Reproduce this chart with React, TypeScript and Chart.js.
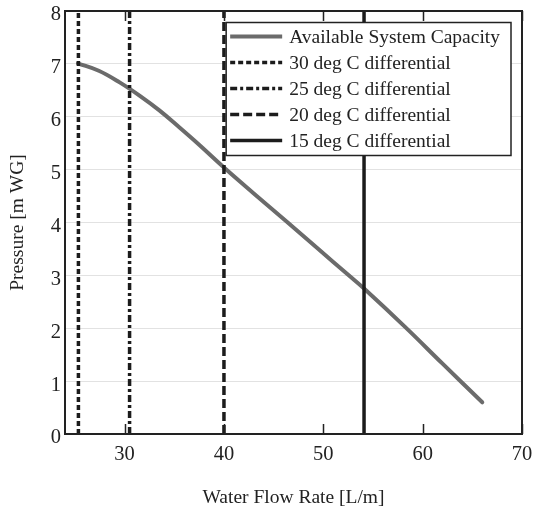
import React, { useEffect, useRef } from 'react';
import { Chart, registerables } from 'chart.js';

Chart.register(...registerables);

// ---- data ----
const flowRates = [25.3, 27.4, 29.5, 31.5, 33.5, 35.5, 37.5, 40.0, 43.0, 46.3, 49.5, 52.5, 54.1, 58.2, 62.0, 66.0];
const pressures = [7.01, 6.87, 6.65, 6.40, 6.12, 5.80, 5.47, 5.04, 4.55, 4.02, 3.50, 3.01, 2.75, 2.03, 1.33, 0.6];
const curveLabel = 'Available System Capacity';

const differentialLabels = [
  '30 deg C differential',
  '25 deg C differential',
  '20 deg C differential',
  '15 deg C differential',
];
const differentialFlows = [25.35, 30.5, 40.0, 54.1];
const pressureSpan = [0, 8];

const xTicks = [30, 40, 50, 60, 70];
const xMin = 24;
const xMax = 70;
const yMin = 0;
const yMax = 8;
const xTitle = 'Water Flow Rate [L/m]';
const yTitle = 'Pressure [m WG]';

// ---- styles ----
const FONT = "'Liberation Serif', 'Times New Roman', 'DejaVu Serif', serif";
const TICK_SIZE = 20.5;
const TEXT_SIZE = 19.5;
const INK = '#222222';
const CURVE_COLOR = '#6b6b6b';
const LINE_COLOR = '#1c1c1c';
const dashPatterns = [[5, 3], [7, 3, 3, 3], [9, 4], []];

const framePlugin = {
  id: 'frameAndLegend',
  afterDraw(chart: any) {
    const { ctx, chartArea: a } = chart;
    ctx.save();
    // frame
    ctx.strokeStyle = INK;
    ctx.lineWidth = 2;
    ctx.setLineDash([]);
    ctx.strokeRect(a.left, a.top, a.right - a.left, a.bottom - a.top);
    // inward x ticks (bottom and top)
    const xs = chart.scales.x;
    ctx.lineWidth = 1.5;
    xs.ticks.forEach((t: any) => {
      const px = Math.round(xs.getPixelForValue(t.value)) + 0.5;
      ctx.beginPath();
      ctx.moveTo(px, a.bottom);
      ctx.lineTo(px, a.bottom - 10);
      ctx.moveTo(px, a.top);
      ctx.lineTo(px, a.top + 10);
      ctx.stroke();
    });

    // legend
    const ds = chart.data.datasets;
    ctx.font = `${TEXT_SIZE}px ${FONT}`;
    const sampleLen = 52;
    const padL = 4;
    const gap = 7;
    const padR = 11;
    const rowH = 26;
    const padT = 14;
    const padB = 15;
    let textW = 0;
    ds.forEach((d: any) => {
      textW = Math.max(textW, ctx.measureText(d.label).width);
    });
    const boxW = padL + sampleLen + gap + textW + padR;
    const boxH = padT + rowH * (ds.length - 1) + padB;
    const right = a.right - 11;
    const left = right - boxW;
    const top = a.top + 11.5;
    ctx.fillStyle = '#ffffff';
    ctx.fillRect(left, top, boxW, boxH);
    ctx.strokeStyle = INK;
    ctx.lineWidth = 1.5;
    ctx.setLineDash([]);
    ctx.strokeRect(left, top, boxW, boxH);
    ds.forEach((d: any, i: number) => {
      const y = top + padT + i * rowH;
      ctx.save();
      ctx.strokeStyle = d.borderColor;
      ctx.lineWidth = d.borderWidth;
      ctx.setLineDash(d.borderDash || []);
      ctx.beginPath();
      ctx.moveTo(left + padL, y);
      ctx.lineTo(left + padL + sampleLen, y);
      ctx.stroke();
      ctx.restore();
      ctx.fillStyle = INK;
      ctx.textBaseline = 'middle';
      ctx.textAlign = 'left';
      ctx.fillText(d.label, left + padL + sampleLen + gap, y + 1);
    });
    ctx.restore();
  },
};

export default function App() {
  const ref = useRef<HTMLCanvasElement | null>(null);

  useEffect(() => {
    document.body.style.margin = '0';
    const canvas = ref.current;
    if (!canvas) return;

    const curve = {
      label: curveLabel,
      data: flowRates.map((x, i) => ({ x, y: pressures[i] })),
      borderColor: CURVE_COLOR,
      backgroundColor: CURVE_COLOR,
      borderWidth: 4,
      borderCapStyle: 'round',
      tension: 0.4,
      pointRadius: 0,
      order: 1,
    };
    const verticals = differentialLabels.map((label, i) => ({
      label,
      data: pressureSpan.map((y) => ({ x: differentialFlows[i], y })),
      borderColor: LINE_COLOR,
      backgroundColor: LINE_COLOR,
      borderWidth: 3.5,
      borderDash: dashPatterns[i],
      pointRadius: 0,
      order: 0,
    }));

    const chart = new Chart(canvas, {
      type: 'line',
      data: { datasets: [curve, ...verticals] as any },
      options: {
        animation: false,
        responsive: false,
        maintainAspectRatio: false,
        layout: { padding: { top: 11, right: 17, left: 0, bottom: 0 } },
        plugins: { legend: { display: false }, tooltip: { enabled: false } },
        elements: { point: { radius: 0 } },
        scales: {
          x: {
            type: 'linear',
            min: xMin,
            max: xMax,
            afterBuildTicks: (s: any) => {
              s.ticks = xTicks.map((v) => ({ value: v }));
            },
            afterFit: (s: any) => {
              s.height = 73;
              s.paddingLeft = 0;
              s.paddingRight = 0;
            },
            grid: { display: false, drawTicks: false },
            border: { display: false },
            ticks: {
              padding: 8,
              color: INK,
              font: { family: FONT, size: TICK_SIZE },
              maxRotation: 0,
            },
            title: {
              display: true,
              text: xTitle,
              color: INK,
              font: { family: FONT, size: TEXT_SIZE, lineHeight: 0.8 },
              padding: { top: 0, bottom: 1 },
            },
          },
          y: {
            type: 'linear',
            min: yMin,
            max: yMax,
            afterFit: (s: any) => {
              s.width = 65;
              s.paddingTop = 0;
              s.paddingBottom = 0;
            },
            grid: { color: '#e2e2e2', lineWidth: 1, drawTicks: false },
            border: { display: false },
            ticks: {
              stepSize: 1,
              padding: 4,
              labelOffset: 4,
              color: INK,
              font: { family: FONT, size: TICK_SIZE },
            },
            title: {
              display: true,
              text: yTitle,
              color: INK,
              font: { family: FONT, size: TEXT_SIZE, lineHeight: 1 },
              padding: { top: 8, bottom: 0 },
            },
          },
        },
      },
      plugins: [framePlugin],
    } as any);

    return () => chart.destroy();
  }, []);

  return (
    <div style={{ position: 'fixed', left: 0, top: 0, width: 539, height: 507 }}>
      <canvas ref={ref} width={539} height={507} style={{ width: 539, height: 507 }} />
    </div>
  );
}
